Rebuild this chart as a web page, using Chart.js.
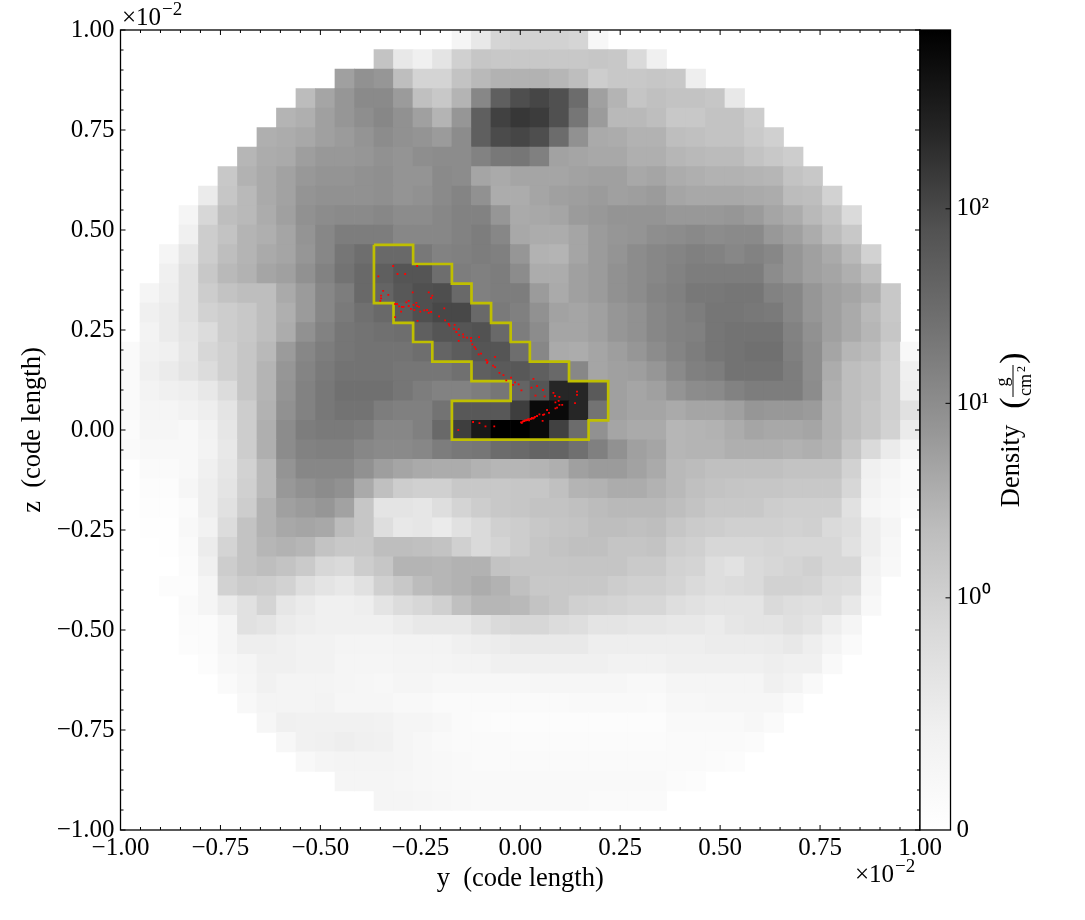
<!DOCTYPE html>
<html>
<head>
<meta charset="utf-8">
<title>Density slice</title>
<script src="https://cdn.jsdelivr.net/npm/chart.js@4"></script>
<style>
  html, body { margin: 0; background: #fff; overflow: hidden; }
  canvas { position: absolute; left: 0; top: 0; }
</style>
</head>
<body>
<canvas id="sliceChart" width="1085" height="920"></canvas>
<canvas id="barChart" width="1085" height="920"></canvas>
<script>
// cell darkness, 0 = white, 255 = black, top row first
const cellShades = [
  [0,0,0,0,0,0,0,0,0,0,0,0,0,0,0,0,0,10,23,42,45,45,45,42,8,0,0,0,0,0,0,0,0,0,0,0,0,0,0,0,0],
  [0,0,0,0,0,0,0,0,0,0,0,0,0,60,23,15,27,47,57,55,55,55,55,55,57,55,37,15,0,0,0,0,0,0,0,0,0,0,0,0,0],
  [0,0,0,0,0,0,0,0,0,0,0,95,110,105,65,43,43,60,70,77,77,77,73,65,50,55,55,57,55,17,0,0,0,0,0,0,0,0,0,0,0],
  [0,0,0,0,0,0,0,0,0,67,90,105,117,117,100,63,55,75,120,160,177,185,175,147,95,75,58,63,60,60,57,23,0,0,0,0,0,0,0,0,0],
  [0,0,0,0,0,0,0,0,75,80,95,105,113,120,110,95,75,105,160,190,200,195,175,137,100,70,70,65,55,55,60,60,50,0,0,0,0,0,0,0,0],
  [0,0,0,0,0,0,0,80,83,87,95,100,107,115,110,107,100,115,160,180,185,177,147,110,85,83,77,77,65,63,60,60,53,47,0,0,0,0,0,0,0],
  [0,0,0,0,0,0,73,83,85,97,103,103,105,110,107,113,115,115,125,135,137,127,93,90,87,87,80,80,73,70,68,68,60,55,50,0,0,0,0,0,0],
  [0,0,0,0,0,55,77,85,93,103,107,107,110,112,107,107,117,115,90,85,90,90,90,93,95,95,87,90,83,80,77,77,75,73,60,55,0,0,0,0,0],
  [0,0,0,0,20,57,70,85,93,107,110,110,110,112,107,110,117,123,110,83,83,90,95,97,100,95,97,100,90,87,87,87,85,83,67,65,45,0,0,0,0],
  [0,0,0,10,40,65,70,83,95,110,115,117,117,120,115,115,120,125,125,105,85,87,90,100,103,107,107,107,103,103,103,105,100,90,83,70,60,37,0,0,0],
  [0,0,0,15,50,60,75,80,90,107,120,130,130,130,120,120,120,125,130,120,87,83,83,90,100,105,107,113,115,118,115,117,117,103,95,83,67,55,0,0,0],
  [0,0,10,25,50,65,75,85,90,105,120,137,145,150,150,135,125,127,130,127,105,77,75,90,100,107,115,120,123,127,125,120,125,120,105,95,85,70,45,0,0],
  [0,0,15,30,55,70,77,90,95,110,125,140,150,160,170,170,145,130,127,130,115,83,83,95,100,110,115,120,125,130,130,130,130,115,105,95,90,80,65,0,0],
  [0,10,17,30,50,60,65,65,85,100,120,130,150,155,167,175,177,150,127,130,130,100,85,95,100,110,115,123,127,135,135,137,137,125,120,105,95,90,80,55,0],
  [0,15,20,30,45,50,55,65,80,100,120,133,143,150,163,175,183,183,150,133,127,110,93,90,95,105,110,120,125,130,137,137,135,133,120,105,95,85,70,55,0],
  [0,12,20,27,35,50,55,65,83,110,125,137,140,143,145,160,170,170,173,150,130,115,90,90,95,105,110,120,125,127,137,140,140,140,125,110,95,85,73,57,0],
  [5,13,15,25,40,47,57,70,100,120,130,137,140,140,140,145,155,163,170,170,145,120,85,83,90,97,105,115,123,130,137,140,143,143,127,113,90,73,67,50,7],
  [5,15,20,27,35,47,57,75,105,123,133,140,140,140,137,137,137,143,160,165,167,160,150,120,90,95,97,105,117,127,130,140,140,140,130,113,83,65,60,47,15],
  [5,12,15,17,23,35,57,75,107,125,135,143,143,143,137,130,125,125,130,137,155,170,217,217,165,95,90,95,107,115,117,125,130,130,130,115,80,65,60,47,17],
  [5,10,10,13,17,27,50,77,110,125,135,140,140,130,127,127,140,167,167,167,193,245,245,217,140,95,90,90,85,90,90,95,105,103,103,100,77,65,57,47,30],
  [4,9,9,7,13,25,50,80,115,130,133,133,130,120,120,127,150,193,230,255,255,245,190,147,110,90,85,85,73,75,77,83,90,87,87,90,77,65,57,45,20],
  [5,7,7,7,12,23,50,80,115,125,127,127,120,117,117,120,130,135,137,147,150,155,155,143,127,110,95,90,73,75,75,80,80,80,77,80,75,57,37,20,10],
  [0,5,5,7,15,25,45,70,107,120,120,120,110,97,90,85,83,83,77,73,73,75,80,95,100,100,93,85,70,67,63,63,63,63,60,60,60,45,15,10,5],
  [0,3,3,9,17,27,47,70,103,110,115,110,85,63,50,47,47,55,55,55,57,57,63,75,77,83,83,77,70,63,60,58,57,57,55,55,55,40,13,8,5],
  [0,2,2,5,17,30,50,77,95,100,105,93,57,27,27,25,33,43,50,55,57,60,60,63,67,70,70,70,65,60,55,55,55,50,48,48,48,30,10,7,3],
  [0,1,1,7,13,35,60,77,87,90,87,67,57,33,23,25,20,30,37,47,50,55,58,60,65,65,63,65,57,52,50,47,47,47,45,47,37,33,17,10,0],
  [0,0,1,5,19,43,60,73,77,73,60,55,55,65,65,63,60,47,37,43,50,57,60,63,63,58,58,60,50,47,40,40,40,42,40,40,40,30,17,8,0],
  [0,0,0,4,15,50,60,65,60,53,40,37,50,57,75,75,73,77,77,60,57,57,57,58,58,58,53,53,45,43,33,29,37,40,43,47,40,40,13,7,0],
  [0,0,3,3,10,45,52,50,45,33,27,23,30,47,55,67,73,77,83,77,63,55,55,55,55,50,47,47,43,37,33,35,37,45,45,43,35,33,10,0,0],
  [0,0,0,5,10,20,30,43,25,20,15,15,17,27,35,40,47,63,73,73,70,60,55,47,45,43,40,40,33,30,27,27,27,37,33,31,33,23,7,0,0],
  [0,0,0,4,4,10,30,27,20,17,15,15,15,15,19,23,23,23,30,37,40,40,35,33,27,27,25,25,23,23,20,25,27,27,31,27,17,10,0,0,0],
  [0,0,0,3,4,10,17,17,15,13,13,11,11,11,12,12,12,15,17,19,22,22,22,22,17,17,17,17,17,17,19,19,19,20,23,17,11,5,0,0,0],
  [0,0,0,0,3,8,10,15,15,13,13,10,10,10,11,11,11,12,12,15,15,15,15,15,15,13,13,13,15,15,15,15,15,17,15,15,6,0,0,0,0],
  [0,0,0,0,0,5,9,14,11,11,11,10,9,8,10,10,8,8,8,8,8,9,9,9,9,9,7,7,10,10,10,10,10,15,12,6,0,0,0,0,0],
  [0,0,0,0,0,0,7,11,11,11,12,9,9,9,7,7,5,5,5,5,5,5,5,6,6,6,6,5,8,8,9,9,9,9,5,0,0,0,0,0,0],
  [0,0,0,0,0,0,0,9,15,14,14,14,14,13,10,10,8,5,4,3,3,3,3,3,3,3,3,3,6,6,6,6,8,5,0,0,0,0,0,0,0],
  [0,0,0,0,0,0,0,0,8,14,15,17,15,14,10,8,6,5,5,5,4,4,4,4,4,4,4,4,5,5,5,5,4,0,0,0,0,0,0,0,0],
  [0,0,0,0,0,0,0,0,0,7,10,11,11,11,10,8,7,6,5,5,5,5,5,5,5,5,5,5,5,5,4,3,0,0,0,0,0,0,0,0,0],
  [0,0,0,0,0,0,0,0,0,0,0,10,10,10,9,8,7,6,6,6,6,6,6,6,6,6,6,6,4,3,0,0,0,0,0,0,0,0,0,0,0],
  [0,0,0,0,0,0,0,0,0,0,0,0,0,10,10,9,8,7,6,6,6,6,6,6,5,5,5,5,0,0,0,0,0,0,0,0,0,0,0,0,0],
  [0,0,0,0,0,0,0,0,0,0,0,0,0,0,0,0,0,0,0,0,0,0,0,0,0,0,0,0,0,0,0,0,0,0,0,0,0,0,0,0,0]
];

// yellow clump outline, in code length / 1e-2
const contourY = [-0.366,-0.268,-0.268,-0.171,-0.171,-0.122,-0.122,-0.073,-0.073,-0.024,-0.024,0.024,0.024,0.122,0.122,0.220,0.220,0.171,0.171,-0.171,-0.171,-0.024,-0.024,-0.122,-0.122,-0.220,-0.220,-0.268,-0.268,-0.317,-0.317,-0.366,-0.366];
const contourZ = [0.463,0.463,0.415,0.415,0.366,0.366,0.317,0.317,0.268,0.268,0.220,0.220,0.171,0.171,0.122,0.122,0.024,0.024,-0.024,-0.024,0.073,0.073,0.122,0.122,0.171,0.171,0.220,0.220,0.268,0.268,0.317,0.317,0.463];

// red particles, in code length / 1e-2
const particleY = [-0.318,-0.258,-0.307,-0.288,-0.355,-0.343,-0.330,-0.348,-0.348,-0.350,-0.269,-0.229,-0.220,-0.223,-0.313,-0.308,-0.279,-0.285,-0.260,-0.267,-0.258,-0.253,-0.303,-0.296,-0.292,-0.279,-0.273,-0.265,-0.298,-0.313,-0.257,-0.250,-0.240,-0.233,-0.229,-0.223,-0.203,-0.190,-0.188,-0.179,-0.177,-0.164,-0.166,-0.154,-0.160,-0.153,-0.143,-0.142,-0.133,-0.123,-0.123,-0.154,-0.103,-0.120,-0.114,-0.111,-0.104,-0.098,-0.085,-0.082,-0.083,-0.063,-0.068,-0.063,-0.052,-0.042,-0.035,-0.023,-0.013,-0.018,-0.004,0.003,0.028,0.033,0.042,0.057,0.038,0.061,0.083,0.087,0.098,0.142,0.142,0.088,0.096,0.098,0.105,0.137,0.092,0.088,0.067,0.072,0.057,0.060,0.048,0.042,0.033,0.025,0.017,0.008,0.002,0.056,-0.118,-0.102,-0.087,-0.065,-0.155,0.006,0.012,0.020,0.029,0.035,0.004,0.010,0.015,0.022,0.027,0.031,0.037];
const particleZ = [0.410,0.410,0.390,0.390,0.384,0.348,0.338,0.336,0.329,0.323,0.344,0.344,0.336,0.330,0.315,0.315,0.323,0.319,0.318,0.313,0.310,0.308,0.309,0.308,0.308,0.310,0.303,0.300,0.296,0.282,0.273,0.296,0.299,0.300,0.293,0.295,0.284,0.304,0.274,0.265,0.261,0.263,0.253,0.252,0.245,0.237,0.239,0.232,0.231,0.230,0.223,0.223,0.232,0.214,0.207,0.202,0.189,0.191,0.175,0.171,0.168,0.183,0.161,0.157,0.143,0.137,0.124,0.131,0.119,0.113,0.114,0.099,0.106,0.128,0.110,0.100,0.086,0.084,0.093,0.085,0.083,0.096,0.088,0.069,0.073,0.063,0.063,0.067,0.056,0.054,0.050,0.043,0.038,0.039,0.039,0.035,0.029,0.028,0.025,0.022,0.019,0.023,0.020,0.017,0.009,0.009,0.000,0.021,0.024,0.027,0.030,0.031,0.018,0.022,0.024,0.024,0.028,0.029,0.033];

const axisTicks = [-1, -0.75, -0.5, -0.25, 0, 0.25, 0.5, 0.75, 1];
const axisMinorTicks = [-0.95,-0.9,-0.85,-0.8,-0.7,-0.65,-0.6,-0.55,-0.45,-0.4,-0.35,-0.3,-0.2,-0.15,-0.1,-0.05,0.05,0.1,0.15,0.2,0.3,0.35,0.4,0.45,0.55,0.6,0.65,0.7,0.8,0.85,0.9,0.95];

// colour bar positions on its 0-255 axis and their labels
const barTickLevels = [0, 74, 136, 198];
const barTickLabels = ['0', '10⁰', '10¹', '10²'];
const barGreys = [255, 240, 217, 189, 150, 115, 82, 37, 0];

const SERIF = '"Liberation Serif", serif';
const TICK_SIZE = 25;
const TITLE_SIZE = 26.5;

function gray(v) { return 'rgb(' + v + ',' + v + ',' + v + ')'; }

// build the cell list from the rows
const nCells = cellShades.length;
const cellPoints = [];
const cellColors = [];
cellShades.forEach((row, r) => {
    row.forEach((shade, c) => {
        if (shade === 0) return;
        cellPoints.push({ x: -1 + (c + 0.5) * 2 / nCells, y: 1 - (r + 0.5) * 2 / nCells });
        cellColors.push(gray(255 - shade));
    });
});

function offsetText(ctx, x, y) {
    ctx.fillStyle = '#000';
    ctx.textAlign = 'left';
    ctx.textBaseline = 'alphabetic';
    ctx.font = TICK_SIZE + 'px ' + SERIF;
    ctx.fillText('×10', x, y);
    const w = ctx.measureText('×10').width;
    ctx.font = '19px ' + SERIF;
    ctx.fillText('−2', x + w + 1, y - 10);
}

// inward ticks on all four sides, frame and the scale offset text
const framePlugin = {
    id: 'frameTicks',
    afterDatasetsDraw(chart) {
        const { ctx, chartArea: a, scales } = chart;
        ctx.save();
        ctx.strokeStyle = '#000';
        ctx.lineWidth = 1;
        const drawSet = (values, len) => {
            values.forEach(v => {
                const px = scales.x.getPixelForValue(v);
                const py = scales.y.getPixelForValue(v);
                ctx.beginPath();
                ctx.moveTo(px, a.bottom); ctx.lineTo(px, a.bottom - len);
                ctx.moveTo(px, a.top); ctx.lineTo(px, a.top + len);
                ctx.moveTo(a.left, py); ctx.lineTo(a.left + len, py);
                ctx.moveTo(a.right, py); ctx.lineTo(a.right - len, py);
                ctx.stroke();
            });
        };
        drawSet(axisTicks, 5);
        drawSet(axisMinorTicks, 3);
        ctx.lineWidth = 1.3;
        ctx.strokeRect(a.left, a.top, a.right - a.left, a.bottom - a.top);
        offsetText(ctx, 122, 25);
        offsetText(ctx, 855, 882);
        ctx.restore();
    }
};

new Chart(document.getElementById('sliceChart').getContext('2d'), {
    type: 'scatter',
    plugins: [framePlugin],
    data: {
        datasets: [
            {
                label: 'Particles',
                data: particleY.map((y, i) => ({ x: y, y: particleZ[i] })),
                pointStyle: 'rect',
                pointRadius: 1.3,
                pointBorderWidth: 0,
                pointBackgroundColor: '#ff0000'
            },
            {
                label: 'Clump',
                data: contourY.map((y, i) => ({ x: y, y: contourZ[i] })),
                showLine: true,
                pointRadius: 0,
                borderColor: '#bfbf00',
                borderWidth: 2.7,
                borderJoinStyle: 'miter'
            },
            {
                label: 'Density',
                data: cellPoints,
                pointStyle: 'rect',
                pointBorderWidth: 0,
                pointBackgroundColor: cellColors,
                pointRadius: ctx => {
                    const a = ctx.chart.chartArea;
                    return a ? (a.right - a.left) / nCells / Math.SQRT2 + 0.5 : 14;
                }
            }
        ]
    },
    options: {
        responsive: false,
        animation: false,
        layout: { padding: { left: 0, right: 165, top: 30, bottom: 0 } },
        plugins: { legend: { display: false }, tooltip: { enabled: false } },
        scales: {
            x: {
                type: 'linear',
                min: -1,
                max: 1,
                afterBuildTicks: s => { s.ticks = axisTicks.map(value => ({ value })); },
                afterFit: s => { s.height = 90; },
                grid: { display: false, drawTicks: false },
                border: { display: false },
                ticks: {
                    autoSkip: false,
                    maxRotation: 0,
                    padding: 3,
                    color: '#000',
                    font: { family: SERIF, size: TICK_SIZE },
                    callback: v => v.toFixed(2).replace('-', '−')
                },
                title: {
                    display: true,
                    text: 'y  (code length)',
                    color: '#000',
                    font: { family: SERIF, size: TITLE_SIZE },
                    padding: { top: 0, bottom: 25 }
                }
            },
            y: {
                type: 'linear',
                min: -1,
                max: 1,
                afterBuildTicks: s => { s.ticks = axisTicks.map(value => ({ value })); },
                afterFit: s => { s.width = 120.5; },
                grid: { display: false, drawTicks: false },
                border: { display: false },
                ticks: {
                    autoSkip: false,
                    padding: 6,
                    color: '#000',
                    font: { family: SERIF, size: TICK_SIZE },
                    callback: v => v.toFixed(2).replace('-', '−')
                },
                title: {
                    display: true,
                    text: 'z  (code length)',
                    color: '#000',
                    font: { family: SERIF, size: TITLE_SIZE },
                    padding: { top: 17, bottom: 0 }
                }
            }
        }
    }
});

// colour bar frame, its inward ticks and the density label with the unit fraction
const barPlugin = {
    id: 'barFrame',
    afterDatasetsDraw(chart) {
        const { ctx, chartArea: a, scales } = chart;
        ctx.save();
        ctx.strokeStyle = '#000';
        ctx.lineWidth = 1;
        barTickLevels.slice(1).forEach(v => {
            const py = scales.y.getPixelForValue(v);
            ctx.beginPath();
            ctx.moveTo(a.right, py); ctx.lineTo(a.right - 5, py);
            ctx.stroke();
        });
        ctx.lineWidth = 1.3;
        ctx.strokeRect(a.left, a.top, a.right - a.left, a.bottom - a.top);

        const rotated = (text, x, y, size) => {
            ctx.save();
            ctx.translate(x, y);
            ctx.rotate(-Math.PI / 2);
            ctx.font = size + 'px ' + SERIF;
            ctx.fillStyle = '#000';
            ctx.textAlign = 'center';
            ctx.textBaseline = 'alphabetic';
            ctx.fillText(text, 0, 0);
            ctx.restore();
        };
        rotated('Density', 1019, 466, TITLE_SIZE);
        rotated('(', 1023, 403, 34);
        rotated(')', 1023, 358, 34);
        rotated('g', 1008, 382, 18);
        rotated('cm', 1031, 385, 18);
        rotated('2', 1025, 369, 12);
        ctx.lineWidth = 1;
        ctx.beginPath();
        ctx.moveTo(1013, 365); ctx.lineTo(1013, 397);
        ctx.stroke();
        ctx.restore();
    }
};

new Chart(document.getElementById('barChart').getContext('2d'), {
    type: 'bar',
    plugins: [barPlugin],
    data: {
        labels: ['Density'],
        datasets: [{
            data: [[0, 255]],
            barPercentage: 1,
            categoryPercentage: 1,
            borderWidth: 0,
            backgroundColor: ctx => {
                const a = ctx.chart.chartArea;
                if (!a) return '#888';
                const g = ctx.chart.ctx.createLinearGradient(0, a.bottom, 0, a.top);
                barGreys.forEach((v, i) => g.addColorStop(i / (barGreys.length - 1), gray(v)));
                return g;
            }
        }]
    },
    options: {
        responsive: false,
        animation: false,
        layout: { padding: { left: 920, right: 84.5, top: 30, bottom: 90 } },
        plugins: { legend: { display: false }, tooltip: { enabled: false } },
        scales: {
            x: { display: false },
            y: {
                position: 'right',
                min: 0,
                max: 255,
                afterBuildTicks: s => { s.ticks = barTickLevels.map(value => ({ value })); },
                afterFit: s => { s.width = 50; },
                grid: { display: false, drawTicks: false },
                border: { display: false },
                ticks: {
                    autoSkip: false,
                    padding: 6,
                    color: '#000',
                    font: { family: SERIF, size: TICK_SIZE },
                    callback: (v, i) => barTickLabels[i]
                }
            }
        }
    }
});
</script>
</body>
</html>
